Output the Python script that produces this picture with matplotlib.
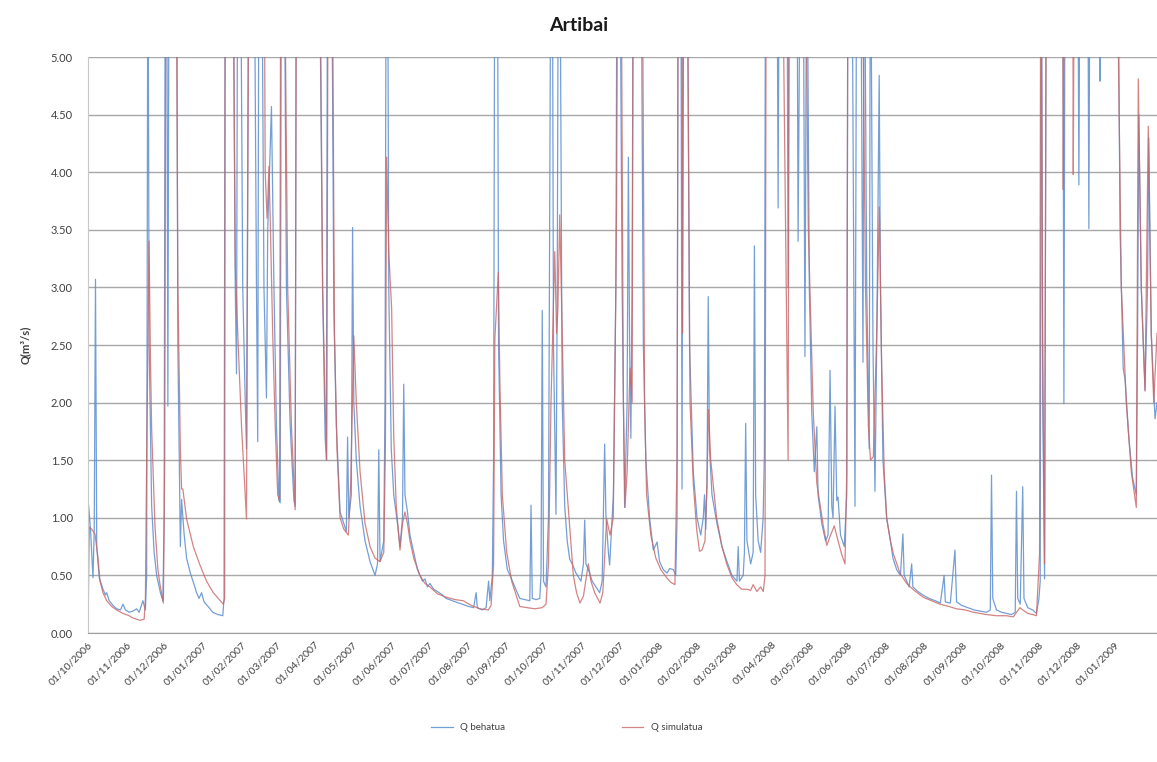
import matplotlib
matplotlib.use("Agg")
import matplotlib.pyplot as plt
import matplotlib.dates as mdates
import pandas as pd

plt.rcParams["font.family"] = ["Lato", "DejaVu Sans"]

START = "2006-10-01"
END_DAY = 856.6  # right edge of the plot area, days after START

# day offsets from START and discharge (m3/s); values > 5 run off the top of the axis
obs_days = [
    0, 0.5, 2, 4, 5, 6, 7, 9, 12, 14, 15, 17, 20, 23, 26, 28, 30, 33, 36, 39,
    41, 44, 46, 47, 48, 49, 51, 53, 55, 58, 60, 61, 62, 63, 64, 65, 67, 69, 71, 72,
    74, 75, 77, 79, 82, 85, 87, 89, 91, 93, 97, 100, 104, 108, 109, 110, 112, 114, 116, 118,
    119, 120, 122, 124, 126, 127, 128, 129, 131, 133, 135, 136, 137, 139, 141, 143, 144, 147, 149, 151,
    153, 154, 155, 157, 159, 162, 165, 166, 167, 176, 185, 188, 190, 191, 192, 195, 197, 199, 202, 205,
    207, 208, 209, 211, 212, 213, 215, 218, 222, 226, 230, 232, 233, 234, 237, 238, 239, 240, 241, 243,
    245, 248, 250, 252, 253, 254, 256, 258, 261, 264, 266, 268, 270, 272, 274, 277, 280, 284, 287, 292,
    297, 300, 305, 309, 311, 312, 316, 319, 321, 322, 324, 325, 326, 328, 329, 331, 333, 336, 339, 342,
    346, 350, 354, 355, 356, 359, 362, 363, 364, 365, 367, 369, 371, 372, 373, 375, 376, 377, 378, 380,
    382, 384, 386, 388, 391, 395, 397, 398, 399, 401, 404, 407, 410, 412, 414, 415, 417, 418, 420, 421,
    423, 424, 426, 428, 430, 432, 433, 434, 435, 436, 437, 440, 443, 445, 447, 450, 453, 456, 458, 461,
    464, 466, 469, 471, 472, 473, 475, 476, 477, 480, 482, 485, 488, 491, 493, 494, 495, 496, 497, 498,
    500, 504, 508, 512, 516, 520, 521, 522, 525, 526, 527, 528, 531, 533, 534, 535, 537, 539, 541, 542,
    543, 546, 549, 552, 553, 554, 557, 560, 561, 562, 565, 568, 569, 571, 573, 574.5, 576, 578, 580, 582,
    584, 585, 588, 591, 593, 594.6, 596, 597, 598.6, 600, 601, 603, 606, 608, 609, 612, 614.6, 616, 619, 621,
    622, 624, 626, 627, 629, 630.6, 632, 634, 635, 637, 640, 643, 645, 648, 651, 653, 654, 656, 658, 660,
    661, 665, 669, 674, 679, 683, 686, 687, 691, 694.7, 696, 700, 705, 710, 715, 720, 723, 724, 725, 728,
    732, 736, 740, 743, 744, 745, 747, 749, 750, 753, 757, 760, 762, 763, 764, 765, 766.5, 768, 781, 782,
    783, 793, 794, 795, 801, 802, 803, 810, 811, 812, 825, 827, 829.5, 831, 834, 837, 840, 841, 842, 844,
    847, 849, 850, 852, 855, 856.6,
]
obs_q = [
    0.0, 1.11, 0.9, 0.48, 0.9, 3.07, 0.75, 0.48, 0.38, 0.33, 0.35, 0.28, 0.24, 0.21, 0.2, 0.25, 0.2, 0.18, 0.19, 0.21,
    0.18, 0.28, 0.2, 0.5, 6.5, 2.5, 1.1, 0.7, 0.5, 0.35, 0.28, 1.0, 6.5, 6.5, 1.97, 6.5, 6.5, 6.5, 6.5, 2.5,
    0.75, 1.16, 0.86, 0.65, 0.52, 0.42, 0.35, 0.3, 0.35, 0.27, 0.22, 0.18, 0.16, 0.15, 0.3, 6.5, 6.5, 6.5, 6.5, 3.0,
    2.25, 6.5, 6.5, 3.0, 2.0, 1.6, 3.9, 6.5, 6.5, 6.5, 3.0, 1.66, 6.5, 6.5, 3.0, 2.04, 3.5, 4.57, 3.0, 1.8,
    1.15, 1.13, 6.5, 6.5, 3.0, 1.8, 1.15, 1.1, 6.5, 6.5, 6.5, 3.0, 1.7, 1.5, 6.5, 6.5, 2.8, 1.8, 1.05, 0.95,
    0.88, 1.7, 1.0, 1.2, 3.52, 2.0, 1.5, 1.1, 0.8, 0.62, 0.5, 0.6, 1.59, 0.62, 0.8, 2.0, 6.5, 6.5, 3.0, 1.6,
    1.2, 0.95, 0.75, 1.0, 2.16, 1.2, 1.05, 0.85, 0.7, 0.55, 0.5, 0.45, 0.47, 0.4, 0.43, 0.38, 0.36, 0.33, 0.3, 0.28,
    0.26, 0.25, 0.23, 0.22, 0.35, 0.22, 0.2, 0.22, 0.45, 0.28, 0.5, 1.5, 6.5, 6.5, 2.5, 1.2, 0.8, 0.55, 0.48, 0.4,
    0.3, 0.29, 0.28, 1.11, 0.3, 0.29, 0.3, 0.5, 2.8, 0.45, 0.4, 1.0, 6.5, 6.5, 2.5, 1.03, 3.0, 6.5, 6.5, 2.0,
    1.1, 0.8, 0.64, 0.6, 0.52, 0.45, 0.6, 0.98, 0.6, 0.55, 0.45, 0.4, 0.35, 0.45, 1.64, 1.03, 0.7, 0.59, 1.0, 1.2,
    3.0, 6.5, 6.5, 3.0, 1.09, 2.0, 4.13, 2.5, 1.69, 3.0, 6.5, 6.5, 6.5, 2.5, 1.5, 1.0, 0.72, 0.79, 0.62, 0.55,
    0.52, 0.56, 0.55, 0.5, 1.0, 6.5, 6.5, 1.25, 6.5, 6.5, 2.5, 1.4, 1.0, 0.85, 1.0, 1.2, 0.9, 1.3, 2.92, 1.6,
    1.2, 0.95, 0.75, 0.62, 0.5, 0.45, 0.75, 0.45, 0.5, 0.7, 1.82, 0.8, 0.6, 0.7, 3.36, 1.2, 0.8, 0.7, 1.0, 1.56,
    6.5, 6.5, 6.5, 6.5, 3.69, 6.5, 6.5, 6.5, 3.0, 6.5, 6.5, 6.5, 3.4, 6.5, 6.5, 2.4, 6.5, 3.0, 1.9, 1.4,
    1.79, 1.2, 0.95, 0.8, 0.85, 2.28, 1.1, 1.0, 1.97, 1.15, 1.18, 0.85, 0.75, 1.2, 6.5, 6.5, 1.1, 6.5, 6.5, 2.35,
    6.5, 3.0, 1.6, 6.5, 2.5, 1.23, 2.5, 4.84, 3.0, 1.5, 0.99, 0.8, 0.65, 0.55, 0.5, 0.86, 0.5, 0.45, 0.4, 0.6,
    0.4, 0.36, 0.33, 0.3, 0.28, 0.26, 0.5, 0.27, 0.26, 0.72, 0.27, 0.24, 0.22, 0.2, 0.19, 0.18, 0.2, 1.37, 0.3, 0.2,
    0.18, 0.17, 0.16, 0.18, 1.23, 0.3, 0.25, 1.27, 0.3, 0.22, 0.2, 0.17, 0.3, 0.45, 6.5, 2.0, 0.47, 6.5, 6.5, 1.99,
    6.5, 6.5, 3.89, 6.5, 6.5, 3.51, 6.5, 6.5, 4.79, 6.5, 6.5, 3.5, 2.3, 2.2, 1.7, 1.35, 1.2, 2.5, 4.5, 3.0,
    2.11, 3.0, 4.3, 2.6, 1.86, 2.0,
]

sim_days = [
    0, 1, 3, 5.6, 8, 9.6, 12, 15, 19, 23, 28, 33, 36, 41.7, 45, 46, 47, 48.9, 50, 51,
    53.7, 56, 57.7, 60.4, 61.5, 62.5, 66, 70.5, 72, 74, 75, 76, 79, 84.4, 89.7, 95, 100.4, 108.4, 109.5, 110,
    114, 116, 118, 120, 123, 127, 128, 129, 133, 138, 141, 142, 143.5, 145, 146, 148, 150, 152, 153.5, 154.5,
    157, 160, 163, 166, 167, 176, 185.5, 188, 190, 191.3, 192.5, 195.5, 197.5, 199.5, 202, 205, 208.6, 210.5, 213, 215,
    218, 222, 226, 230, 234, 237, 238.3, 239.3, 241, 243.3, 245, 247, 250, 252, 254, 256, 258, 261, 266, 270,
    274, 280, 287.4, 294, 300.8, 307, 314, 320.8, 323, 325, 326, 328.8, 330, 332, 335.5, 339.5, 346, 352, 358, 364,
    367, 369, 371, 374, 375.5, 376.5, 378, 380, 382, 386, 388.9, 391.5, 394.2, 397, 400.9, 403, 406, 410.3, 412.5, 415.6,
    418.3, 420.9, 422.5, 423.6, 424.5, 427, 429, 430.3, 432, 434.3, 436, 437, 441, 444, 446, 447.6, 451, 455, 459, 463.7,
    467, 470.3, 472, 473, 475.5, 476.5, 477.5, 480, 482.4, 485, 487.7, 490, 492, 494.4, 496, 497.2, 499, 503.7, 508, 511.8,
    516, 519.8, 523.8, 528, 531, 533, 536, 539, 541.1, 542.5, 543.5, 549, 556, 559, 561, 562, 570, 574.5, 577.2, 581.2,
    584, 589.2, 592, 595, 598, 601, 604, 606.6, 608, 609, 620, 623, 625.3, 627, 629.3, 632, 634.1, 636, 638, 640,
    643, 645.3, 650.6, 656, 662, 669.3, 676, 682.7, 690, 696, 703, 709.4, 715, 720, 728, 736, 741.4, 746.8, 749, 753,
    757, 760, 762.5, 763.5, 765, 766.5, 768, 781, 781.5, 782.5, 789, 789.5, 790.5, 824, 828, 832, 836, 840, 841.6, 844,
    847, 849.6, 852, 854, 856.6,
]
sim_q = [
    0.0, 0.92, 0.9, 0.86, 0.65, 0.45, 0.35, 0.28, 0.23, 0.2, 0.17, 0.15, 0.13, 0.11, 0.12, 0.3, 1.5, 3.4, 2.4, 1.77,
    0.92, 0.55, 0.42, 0.26, 1.5, 6.5, 6.5, 6.5, 3.0, 1.6, 1.25, 1.25, 0.99, 0.75, 0.59, 0.45, 0.35, 0.25, 0.3, 6.5,
    6.5, 6.5, 3.2, 2.6, 1.8, 0.99, 3.9, 6.5, 6.5, 6.5, 6.5, 4.0, 3.6, 4.05, 3.6, 2.6, 1.8, 1.2, 1.15, 6.5,
    6.5, 3.0, 1.8, 1.07, 6.5, 6.5, 6.5, 3.0, 2.0, 1.5, 6.5, 6.5, 2.6, 1.6, 1.0, 0.9, 0.85, 1.3, 2.58, 2.0,
    1.4, 0.95, 0.75, 0.65, 0.62, 0.7, 1.6, 4.13, 3.3, 2.82, 1.7, 1.1, 0.72, 0.95, 1.05, 0.95, 0.8, 0.65, 0.5, 0.43,
    0.4, 0.34, 0.31, 0.29, 0.28, 0.24, 0.21, 0.2, 0.24, 0.6, 2.55, 3.13, 2.2, 1.2, 0.7, 0.45, 0.23, 0.22, 0.21, 0.22,
    0.25, 0.6, 2.0, 3.31, 2.6, 2.8, 3.63, 2.6, 1.5, 0.92, 0.5, 0.35, 0.26, 0.32, 0.6, 0.45, 0.35, 0.26, 0.35, 0.99,
    0.85, 1.0, 2.5, 3.74, 6.5, 6.5, 2.0, 1.09, 1.4, 2.3, 2.0, 6.5, 6.5, 6.5, 2.0, 1.2, 0.85, 0.65, 0.55, 0.48,
    0.44, 0.42, 1.5, 6.5, 6.5, 2.6, 6.5, 6.5, 2.0, 1.3, 0.9, 0.71, 0.72, 0.8, 1.3, 1.94, 1.5, 1.0, 0.75, 0.6,
    0.48, 0.42, 0.38, 0.38, 0.37, 0.42, 0.36, 0.4, 0.36, 0.5, 6.5, 6.5, 6.5, 3.5, 1.5, 6.5, 6.5, 6.5, 3.5, 1.9,
    1.3, 0.93, 0.76, 0.85, 0.93, 0.8, 0.68, 0.6, 1.4, 6.5, 6.5, 3.0, 1.8, 1.5, 1.53, 2.6, 3.7, 2.3, 1.4, 1.0,
    0.8, 0.69, 0.52, 0.43, 0.37, 0.31, 0.28, 0.25, 0.23, 0.21, 0.2, 0.18, 0.17, 0.16, 0.15, 0.15, 0.14, 0.22, 0.2, 0.17,
    0.16, 0.15, 0.69, 6.5, 2.5, 0.6, 6.5, 6.5, 3.85, 6.5, 6.5, 3.98, 6.5, 6.5, 3.0, 2.0, 1.4, 1.09, 4.81, 3.0,
    2.1, 4.4, 2.6, 2.0, 2.6,
]
assert len(obs_days) == len(obs_q) and len(sim_days) == len(sim_q)

y_ticks = [0.0, 0.5, 1.0, 1.5, 2.0, 2.5, 3.0, 3.5, 4.0, 4.5, 5.0]
x_ticks = pd.date_range("2006-10-01", "2009-01-01", freq="MS")  # monthly labels, last one 01/01/2009

start = pd.Timestamp(START)
obs_t = start + pd.to_timedelta(obs_days, unit="D")
sim_t = start + pd.to_timedelta(sim_days, unit="D")

W, H = 1157, 762
fig = plt.figure(figsize=(W / 100, H / 100), dpi=100)
ax = fig.add_axes([88 / W, 1 - 633 / H, 1 - 88 / W, (633 - 57) / H])

ax.plot(obs_t, obs_q, color="#5b8ed0", lw=0.9, alpha=0.85, label="Q behatua")
ax.plot(sim_t, sim_q, color="#c96565", lw=0.9, alpha=0.8, label="Q simulatua")

ax.set_xlim(start, start + pd.Timedelta(days=END_DAY))
ax.set_ylim(0, 5)
ax.set_yticks(y_ticks)
ax.yaxis.set_major_formatter(matplotlib.ticker.FormatStrFormatter("%.2f"))
ax.set_xticks(x_ticks)
ax.xaxis.set_major_formatter(mdates.DateFormatter("%d/%m/%Y"))

ax.grid(axis="y", color="#a8a8a8", lw=1.0)
ax.set_axisbelow(True)
for side in ("top", "right"):
    ax.spines[side].set_visible(False)
ax.spines["left"].set_color("#c8c8c8")
ax.spines["bottom"].set_color("#a0a0a0")

ax.tick_params(axis="y", length=0, pad=11, labelsize=8, labelcolor="#404040")
ax.tick_params(axis="x", length=0, pad=5, labelsize=7.5, labelcolor="#404040")
for lbl in ax.get_xticklabels():
    lbl.set_rotation(45)
    lbl.set_ha("right")
    lbl.set_rotation_mode("anchor")

ax.set_ylabel("Q(m³/s)", fontsize=8, fontweight="bold", color="#404040", labelpad=14)
fig.suptitle("Artibai", x=0.5, y=0.978, fontsize=14, fontweight="bold", color="#1a1a1a")

fig.legend(loc="center", bbox_to_anchor=(0.49, 0.045), ncol=2, frameon=False,
           fontsize=7, columnspacing=12, handlelength=2.2, labelcolor="#404040")

fig.savefig("out.png", dpi=100)
